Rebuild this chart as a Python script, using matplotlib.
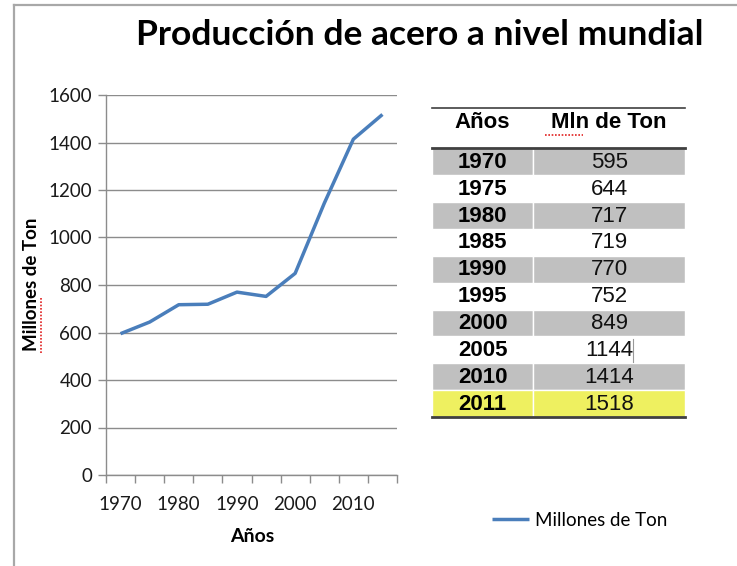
import matplotlib
matplotlib.use("Agg")
import matplotlib.pyplot as plt
from matplotlib.patches import Rectangle
from matplotlib.lines import Line2D

years = ["1970", "1975", "1980", "1985", "1990", "1995", "2000", "2005", "2010", "2011"]
production = [595, 644, 717, 719, 770, 752, 849, 1144, 1414, 1518]
tick_labels = ["1970", "", "1980", "", "1990", "", "2000", "", "2010", ""]

W, H = 737, 566
BLUE = "#4a7ebb"
GRID = "#8c8c8c"
GRAY_ROW = "#c0c0c0"
YELLOW = "#eef060"
CAL = ["Lato", "DejaVu Sans"]
ARIAL = ["Liberation Sans", "DejaVu Sans"]


def fx(px):
    return px / W


def fy(py):
    return 1 - py / H


fig = plt.figure(figsize=(W / 100, H / 100), dpi=100)

# outer frame (only top and left edges visible)
fig.add_artist(Line2D([fx(14), fx(737)], [fy(4.5), fy(4.5)], color="#a8a8a8", lw=1.6))
fig.add_artist(Line2D([fx(14), fx(14)], [fy(4.5), fy(566)], color="#a8a8a8", lw=1.6))

fig.text(fx(420), fy(45), "Producción de acero a nivel mundial", family=CAL,
         fontsize=25.5, fontweight="bold", ha="center", va="baseline")

# ---- line chart
ax = fig.add_axes([fx(106), fy(475), fx(397) - fx(106), fy(95) - fy(475)])
x = list(range(len(years)))
ax.plot(x, production, color=BLUE, lw=2.5, solid_capstyle="butt", label="Millones de Ton")
ax.set_xlim(-0.5, len(years) - 0.5)
ax.set_ylim(0, 1600)
ax.set_yticks(range(0, 1601, 200))
ax.set_xticks(x)
ax.set_xticklabels(tick_labels)
ax.set_xticks([i - 0.5 for i in range(len(years) + 1)], minor=True)
ax.tick_params(axis="x", which="major", length=0, pad=15)
ax.tick_params(axis="x", which="minor", length=6, color=GRID, width=1)
ax.tick_params(axis="y", length=6, color=GRID, width=1, pad=4)
for lab in ax.get_xticklabels() + ax.get_yticklabels():
    lab.set_family(CAL)
    lab.set_fontsize(13.5)
    lab.set_color("#1a1a1a")
ax.grid(axis="y", color=GRID, lw=1)
ax.set_axisbelow(True)
for s in ["top", "right"]:
    ax.spines[s].set_visible(False)
for s in ["left", "bottom"]:
    ax.spines[s].set_color(GRID)
    ax.spines[s].set_linewidth(1)

fig.text(fx(252), fy(536), "Años", family=CAL, fontsize=14, fontweight="bold",
         ha="center", va="center")
fig.text(fx(32), fy(284), "Millones de Ton", family=CAL, fontsize=13.5, fontweight="bold",
         ha="center", va="center", rotation=90)
# spell-check underline under "Millones"
fig.add_artist(Line2D([fx(41), fx(41)], [fy(353), fy(298)], color="#e02020", lw=1.2, ls=(0, (1, 1))))

fig.legend(handles=ax.get_lines(), loc="center left", bbox_to_anchor=(fx(484), fy(520)),
           frameon=False, borderaxespad=0, handlelength=2.0, handletextpad=0.33,
           prop={"family": CAL, "size": 13.5})

# ---- data table
tax = fig.add_axes([fx(432), fy(417), fx(685) - fx(432), fy(108) - fy(417)])
head = 1.5
nrows = len(years)
tax.set_xlim(0, 1)
tax.set_ylim(head + nrows, 0)
tax.axis("off")
split = 0.4

for i, (yr, val) in enumerate(zip(years, production)):
    top = head + i
    if i == nrows - 1:
        col = YELLOW
    elif i % 2 == 0:
        col = GRAY_ROW
    else:
        col = None
    if col:
        tax.add_patch(Rectangle((0, top), split, 1, facecolor=col, edgecolor="white", lw=1))
        tax.add_patch(Rectangle((split, top), 1 - split, 1, facecolor=col, edgecolor="white", lw=1))
    tax.text(split / 2, top + 0.52, yr, family=ARIAL, fontsize=16, fontweight="bold",
             ha="center", va="center")
    tax.text((1 + split) / 2, top + 0.52, str(val), family=ARIAL, fontsize=16,
             ha="center", va="center", color="#111111")

tax.text(split / 2, 0.55, "Años", family=ARIAL, fontsize=16, fontweight="bold", ha="center", va="center")
tax.text((1 + split) / 2, 0.55, "Mln de Ton", family=ARIAL, fontsize=16, fontweight="bold",
         ha="center", va="center")
tax.plot([0.448, 0.595], [1.0, 1.0], color="#e02020", lw=1.2, ls=(0, (1, 1)))

tax.plot([0, 1], [0, 0], color="#404040", lw=1.2, clip_on=False)
tax.plot([0, 1], [head, head], color="#404040", lw=2, clip_on=False)
tax.plot([0, 1], [head + nrows, head + nrows], color="#404040", lw=2, clip_on=False)
# text cursor next to 1144
tax.plot([0.795, 0.795], [head + 7.1, head + 7.95], color="#999999", lw=0.8)

fig.savefig("out.png", dpi=100)
